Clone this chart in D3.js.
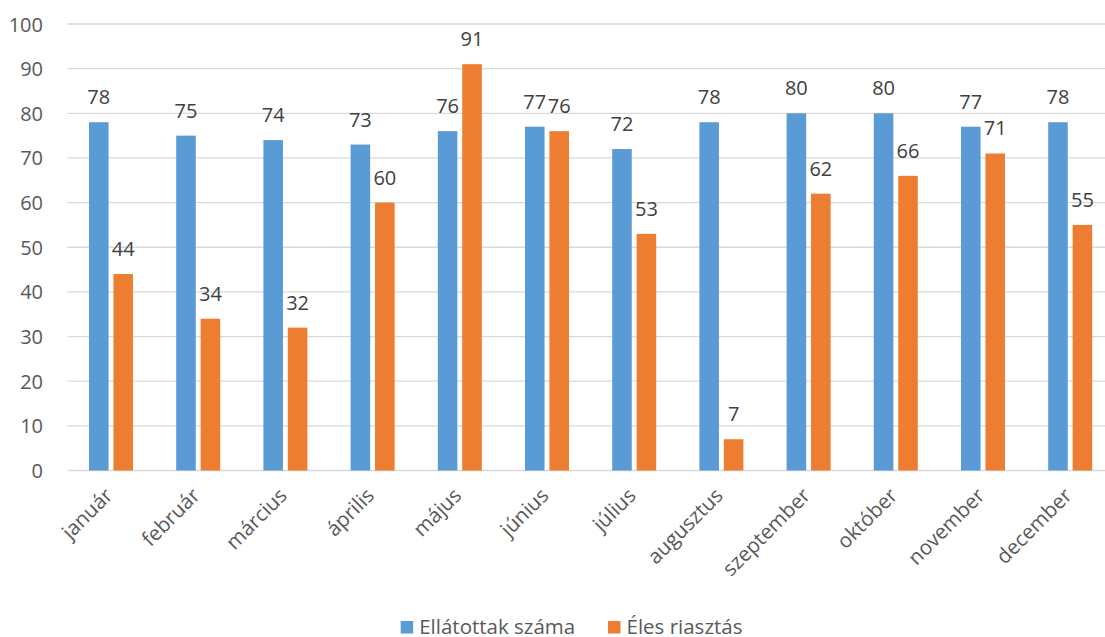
<!DOCTYPE html>
<html><head><meta charset="utf-8">
<script src="https://cdn.jsdelivr.net/npm/d3@7"></script>
<style>
body{margin:0;background:#fff;}
svg{display:block;font-family:"Open Sans",sans-serif;}
</style></head>
<body><svg id="c" width="1105" height="637"></svg>
<script>
const months = ["január","február","március","április","május","június","július","augusztus","szeptember","október","november","december"];
const seriesNames = ["Ellátottak száma","Éles riasztás"];
const ellatottak = [78,75,74,73,76,77,72,78,80,80,77,78];
const eles = [44,34,32,60,91,76,53,7,62,66,71,55];
const yTicks = [0,10,20,30,40,50,60,70,80,90,100];
const colors = ["#5B9BD5","#ED7D31"];

const svg = d3.select("#c");
const left = 67.4, step = 87.2;
const x = d3.scaleBand().domain(months).range([left, left + step*months.length]).padding(0);
const x1 = d3.scaleBand().domain(seriesNames).range([-22,22]).paddingInner(0.2).paddingOuter(0);
const y = d3.scaleLinear().domain([0,100]).range([470.5,24]);

// gridlines
svg.append("g").selectAll("line").data(yTicks).join("line")
  .attr("x1", left).attr("x2", 1105)
  .attr("y1", d=>y(d)).attr("y2", d=>y(d))
  .attr("stroke","#D9D9D9").attr("stroke-width",1.3);

// y axis labels
const yAxis = d3.axisLeft(y).tickValues(yTicks).tickSize(0).tickPadding(0);
const ya = svg.append("g").attr("transform","translate(43,0)").call(yAxis);
ya.select(".domain").remove();
ya.selectAll("text").attr("fill","#595959").style("font-size","20px").style("font-family","'Open Sans',sans-serif").attr("dy","0.35em");

const data = [ellatottak, eles];
data.forEach((vals, si) => {
  const g = svg.append("g");
  g.selectAll("rect").data(vals).join("rect")
    .attr("x",(d,i)=>x(months[i]) + x.bandwidth()/2 + x1(seriesNames[si]))
    .attr("y",d=>y(d))
    .attr("width",x1.bandwidth())
    .attr("height",d=>y(0)-y(d))
    .attr("fill",colors[si]);
  g.selectAll("text").data(vals).join("text")
    .attr("x",(d,i)=>x(months[i]) + x.bandwidth()/2 + x1(seriesNames[si]) + x1.bandwidth()/2)
    .attr("y",d=>y(d)-18)
    .attr("text-anchor","middle")
    .attr("fill","#404040")
    .style("font-size","20px")
    .text(d=>d);
});

// x labels
svg.append("g").selectAll("text").data(months).join("text")
  .attr("transform",d=>`translate(${x(d)+x.bandwidth()/2-8},486) rotate(-45)`)
  .attr("text-anchor","end")
  .attr("dy","0.75em")
  .attr("fill","#595959")
  .style("font-size","20.5px")
  .text(d=>d);

// legend
const legX = [400.7, 608];
const lg = svg.append("g");
seriesNames.forEach((s,i)=>{
  lg.append("rect").attr("x",legX[i]).attr("y",621).attr("width",12.5).attr("height",12.5).attr("fill",colors[i]);
  lg.append("text").attr("x",legX[i]+18.5).attr("y",634).attr("fill","#595959").style("font-size","20.5px").text(s);
});
</script></body></html>
